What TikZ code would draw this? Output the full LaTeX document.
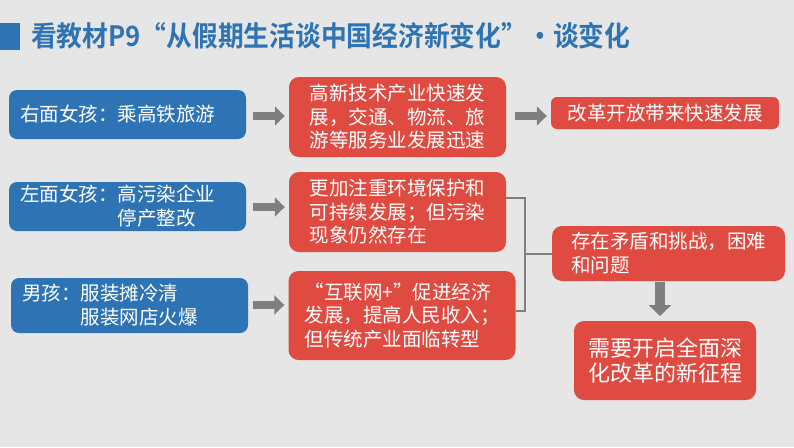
\documentclass[tikz,border=0pt]{standalone}
\usepackage{fontspec}
\usepackage{graphicx}
\setmainfont{Liberation Sans}
\newfontfamily\cjk{Noto Sans CJK SC}
\newfontfamily\cjkb{Noto Sans CJK SC Bold}
\usetikzlibrary{arrows.meta}
\definecolor{bgc}{HTML}{E7E6E6}
\definecolor{boxblue}{HTML}{2E74B5}
\definecolor{boxred}{HTML}{DF4B41}
\definecolor{arrgray}{HTML}{7F7F7F}
\tikzset{
  bluebox/.style={fill=boxblue, rounded corners=8pt, text=white, font=\cjk\fontsize{19.5}{24}\selectfont, align=left, inner sep=0pt},
  redbox/.style={fill=boxred, rounded corners=10pt, text=white, font=\cjk\fontsize{19.5}{23.5}\selectfont, align=left, inner sep=0pt},
  bluetext/.style={anchor=west, text=white, font=\cjk\fontsize{19.5}{24}\selectfont, inner sep=0pt, align=left},
  blockarrow/.style={draw=arrgray, line width=8.5pt, -{Triangle[length=10pt,width=19pt]}},
  bracketline/.style={draw=arrgray, line width=2pt},
}
\begin{document}
\begin{tikzpicture}[x=1pt,y=-1pt]
\useasboundingbox[fill=bgc] (0,0) rectangle (794,447);
% title
\fill[boxblue] (0,23) rectangle (20,50);
\node[anchor=west, text=boxblue, font=\cjkb\fontsize{28}{30}\selectfont, inner sep=0pt] (title) at (31,36) {\scalebox{0.92}[1]{看教材P9“从假期生活谈中国经济新变化”•谈变化}};
% blue boxes
\node[bluebox, minimum width=237pt, minimum height=49pt] (b1) at (127.5,114.5) {};
\node[bluetext] (t1) at (20,114.5) {右面女孩：乘高铁旅游};
\node[bluebox, minimum width=237pt, minimum height=49pt] (b2) at (127.5,206.5) {};
\node[bluetext] (t2) at (20,206.5) {左面女孩：高污染企业\\\phantom{左面女孩：}停产整改};
\node[bluebox, minimum width=237pt, minimum height=55pt] (b3) at (129.5,305.5) {};
\node[bluetext] (t3) at (22,305.5) {男孩：服装摊冷清\\\phantom{男孩：}服装网店火爆};
% red middle boxes
\node[redbox, minimum width=217pt, minimum height=80pt] (r1) at (397.5,117) {高新技术产业快速发\\展，交通、物流、旅\\游等服务业发展迅速};
\node[redbox, minimum width=217pt, minimum height=80pt] (r2) at (397.5,212) {更加注重环境保护和\\可持续发展；但污染\\现象仍然存在\phantom{保护和}};
\node[redbox, minimum width=227pt, minimum height=89pt] (r3) at (402,315.5) {“互联网+”促进经济\\发展，提高人民收入；\\但传统产业面临转型};
% right boxes
\node[redbox, rounded corners=6pt, minimum width=228pt, minimum height=32pt] (s1) at (665,113) {改革开放带来快速发展};
\node[redbox, minimum width=233pt, minimum height=55pt] (s2) at (668.5,253.5) {存在矛盾和挑战，困难\\和问题\phantom{和挑战，困难}};
\node[redbox, font=\cjk\fontsize{22}{25}\selectfont, minimum width=182pt, minimum height=79pt] (s3) at (665,360.5) {需要开启全面深\\化改革的新征程};
% arrows
\draw[blockarrow, shorten <=7pt, shorten >=4pt] (b1.east |- 0,116) -- (r1.west |- 0,116);
\draw[blockarrow, shorten <=7pt, shorten >=4pt] (b2.east |- 0,207) -- (r2.west |- 0,207);
\draw[blockarrow, shorten <=5pt, shorten >=4pt] (b3.east |- 0,305) -- (r3.west |- 0,305);
\draw[blockarrow, shorten <=9pt, shorten >=4pt] (r1.east |- 0,116) -- (s1.west |- 0,116);
\coordinate (dtop) at (660,281);
\coordinate (dbot) at (660,321);
\draw[blockarrow, line width=10pt, -{Triangle[length=11pt,width=22pt]}, shorten <=1pt, shorten >=5pt] (dtop) -- (dbot);
% bracket
\coordinate (k1) at (525,198);
\coordinate (k2) at (525,311);
\coordinate (km) at (525,254);
\draw[bracketline] (r2.east |- k1) -- (k1) -- (k2) -- (r3.east |- k2);
\draw[bracketline] (km) -- (s2.west |- km);
\end{tikzpicture}
\end{document}
